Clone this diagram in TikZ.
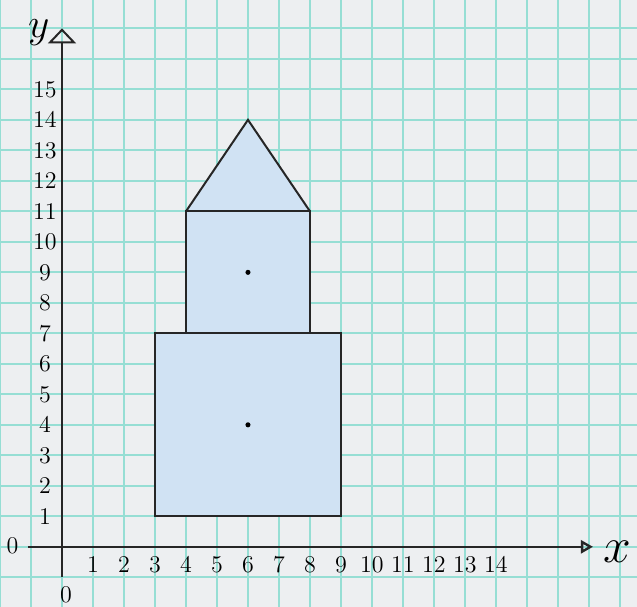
\documentclass[tikz,border=0pt]{standalone}
\usepackage{amsmath}
\usepackage{tikz}
\usetikzlibrary{arrows.meta}
\usepackage{xcolor}
\definecolor{paper}{RGB}{237,239,241}
\definecolor{gridcyan}{RGB}{150,222,212}
\definecolor{crayon}{RGB}{208,226,243}

\begin{document}
\begin{tikzpicture}[x=15.5pt,y=15.25pt,
    axis/.style={line width=1pt,black!85},
    outline/.style={line width=1pt,black!85},
    dot/.style={circle,fill=black,inner sep=0.9pt},
    lbl/.style={font=\large,inner sep=1pt}]
    \useasboundingbox[fill=paper] (-2,-1.97) rectangle (18.55,17.93);
    \draw[step=1,gridcyan,line width=0.9pt] (-2,-1.97) grid (18.55,17.93);

      % Axes
      \coordinate (xstart) at (-1.1,0);
      \coordinate (xend) at (17.13,0);
      \coordinate (ystart) at (0,-1);
      \coordinate (yend) at (0,17);
      \draw[axis,-{Triangle[open,length=6pt,width=6.5pt,line width=1.2pt]}] (xstart) -- (xend);
      \draw[axis,-{Triangle[open,length=7.5pt,width=14pt]}] (ystart) -- (yend);
      \node[font=\fontsize{28}{30}\selectfont] (xname) at (17.9,-0.15) {$x$};
      \node[font=\fontsize{22}{24}\selectfont] (yname) at (-0.75,16.85) {$y$};

      % Ticks
    \foreach \x in {1, ..., 14}
    \node[lbl] (xl\x) at (\x, -0.58) {\x};
    \foreach \y in {1, ..., 15}
    \node[lbl] (yl\y) at (-0.55, \y) {\y};
      \node[lbl] (zeroy) at (-1.6, 0.05) {0};
      \node[lbl] (zerox) at (0.13, -1.57) {0};

      % Shape
      \fill[crayon] (3,1) -- (9,1) -- (9,7) -- (8,7) -- (8,11) -- (6,14)
        -- (4,11) -- (4,7) -- (3,7) -- cycle;
      \draw[outline] (3,1) rectangle (9,7);
      \draw[outline] (4,7) rectangle (8,11);
      \draw[outline] (4,11) -- (6,14) -- (8,11);

      % Centres
      \node[dot] (top) at (6,9) {};
      \node[dot] (bottom) at (6,4) {};
  \end{tikzpicture}
\end{document}
